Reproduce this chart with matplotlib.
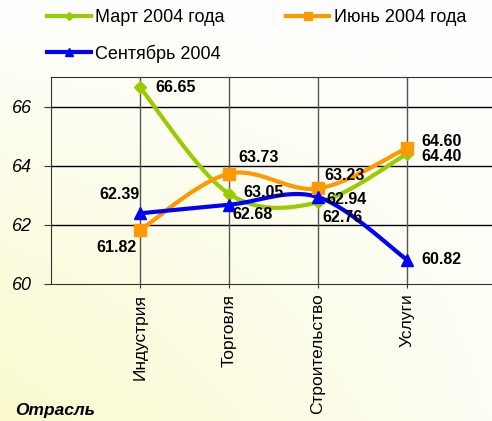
import numpy as np
import matplotlib
matplotlib.use("Agg")
import matplotlib.pyplot as plt
from matplotlib.lines import Line2D

plt.rcParams['font.family'] = ['Liberation Sans', 'DejaVu Sans']

# data
categories = ['Индустрия', 'Торговля', 'Строительство', 'Услуги']
series_names = ['Март 2004 года', 'Июнь 2004 года', 'Сентябрь 2004']
march = [66.65, 63.05, 62.76, 64.40]
june = [61.82, 63.73, 63.23, 64.60]
september = [62.39, 62.68, 62.94, 60.82]
yticks = [60, 62, 64, 66]
xlabel = 'Отрасль'

colors = ['#99CC00', '#FF9900', '#0000FF']
markers = ['D', 's', '^']
msizes = [6, 8, 8]

# label offsets in pixels (dx, dy), one per point
offsets = [
    [(15, 0), (14, 1), (4, -15), (14, -3)],
    [(-3, -17), (9, 16), (6, 13), (14, 6)],
    [(0, 19), (3, -10), (8, -2), (14, 0)],
]
aligns = [
    ['left', 'left', 'left', 'left'],
    ['right', 'left', 'left', 'left'],
    ['right', 'left', 'left', 'left'],
]


def smooth(xs, ys, n=40):
    # Bezier smoothing like spreadsheet "smoothed line"
    p = np.column_stack([xs, ys]).astype(float)
    p_ext = np.vstack([p[0], p, p[-1]])
    out = []
    t = np.linspace(0, 1, n)[:, None]
    for i in range(len(p) - 1):
        p0, p1, p2, p3 = p_ext[i], p_ext[i + 1], p_ext[i + 2], p_ext[i + 3]
        c1 = p1 + (p2 - p0) / 6
        c2 = p2 - (p3 - p1) / 6
        seg = ((1 - t) ** 3) * p1 + 3 * ((1 - t) ** 2) * t * c1 + 3 * (1 - t) * t ** 2 * c2 + t ** 3 * p2
        out.append(seg if i == 0 else seg[1:])
    out = np.vstack(out)
    return out[:, 0], out[:, 1]


W, H = 492, 421
fig = plt.figure(figsize=(W / 100, H / 100), dpi=100)

# background gradient: pale yellow at bottom left, white to the top and right
bg = fig.add_axes([0, 0, 1, 1], zorder=-10)
gx, gy = np.meshgrid(np.linspace(0, 1, 200), np.linspace(0, 1, 200))
amt = np.clip(1 - gy, 0, 1) ** 0.9 * (1 - 0.8 * gx)
c0 = np.array([250, 250, 205]) / 255
c1 = np.array([255, 255, 255]) / 255
img = c1[None, None, :] * (1 - amt[..., None]) + c0[None, None, :] * amt[..., None]
bg.imshow(img, origin='lower', aspect='auto', extent=[0, 1, 0, 1])
bg.axis('off')

ax = fig.add_axes([51 / W, (H - 284) / H, (496 - 51) / W, (284 - 77) / H])
ax.set_facecolor('none')
x = np.arange(1, len(categories) + 1)
ax.set_xlim(0, 5)
ax.set_ylim(60, 67)

for yv in yticks[1:]:
    ax.axhline(yv, color='black', lw=1, zorder=1)
for xv in x:
    ax.axvline(xv, color='#555555', lw=1, zorder=1)

handles = []
for vals, c, m, ms, offs, als in zip([march, june, september], colors, markers, msizes, offsets, aligns):
    sx, sy = smooth(x, vals)
    ax.plot(sx, sy, color=c, lw=3, zorder=3, solid_capstyle='round')
    ax.plot(x, vals, linestyle='none', marker=m, color=c, ms=ms, zorder=4)
    for xi, v, o, al in zip(x, vals, offs, als):
        ax.annotate(f'{v:.2f}', (xi, v), xytext=o, textcoords='offset pixels',
                    ha=al, va='center', fontsize=11.5, fontweight='bold', zorder=5)
    handles.append(Line2D([], [], color=c, lw=3, marker=m, ms=ms * 0.7))

ax.set_yticks(yticks)
ax.set_yticklabels([str(v) for v in yticks], fontstyle='italic', fontsize=13)
ax.set_xticks(x)
ax.set_xticklabels(categories, rotation=90, fontsize=12.5)
ax.tick_params(axis='y', length=5, pad=9, color='#333333')
ax.tick_params(axis='x', length=3, pad=4, color='#333333')
for s in ['left', 'top', 'bottom']:
    ax.spines[s].set_color('#333333')
ax.spines['right'].set_visible(False)

fig.text(15 / W, 1 - 410 / H, xlabel, fontsize=12.5, fontweight='bold', fontstyle='italic',
         va='center', ha='left')

leg = fig.legend([handles[0], handles[2], handles[1]],
                 [series_names[0], series_names[2], series_names[1]],
                 ncol=2, loc='upper left', bbox_to_anchor=(40 / W, 1 - 2 / H),
                 frameon=False, fontsize=13, handlelength=2.4, handletextpad=0.25,
                 columnspacing=3.4, labelspacing=1.0, borderaxespad=0)

fig.savefig('out.png', dpi=100)
